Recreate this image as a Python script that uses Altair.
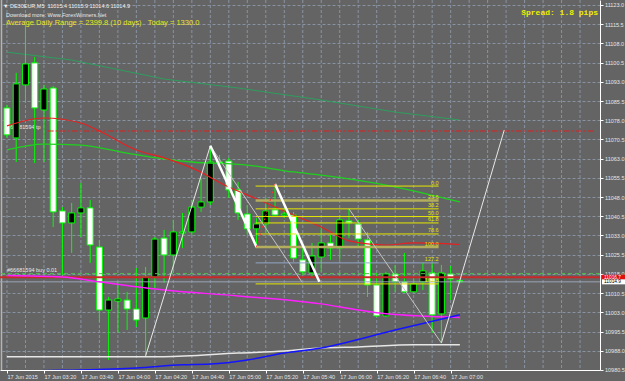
import altair as alt
import pandas as pd

# ---------------- candles (DE30EUR M5, bar 0 = 03:00) ----------------
bar_index = list(range(50))
opens = [11082.8, 11071.1, 11091.8, 11100.4, 11082.0, 11090.6, 11042.6, 11037.9, 11041.8, 11043.8,
         11028.5, 11003.9, 11007.4, 11007.8, 11004.3, 11000.8, 11016.8, 11032.0, 11025.4, 11034.0,
         11034.4, 11044.1, 11046.1, 11061.7, 11062.1, 11050.8, 11041.4, 11035.6, 11037.5, 11043.0,
         11041.0, 11041.0, 11023.5, 11018.4, 11024.6, 11030.1, 11028.1, 11038.7, 11037.5, 11031.3,
         11013.7, 11001.6, 11018.0, 11014.9, 11011.0, 11014.9, 11018.4, 11002.4, 11018.0, 11015.4]
highs = [11084.0, 11096.5, 11115.2, 11102.7, 11091.8, 11091.4, 11044.1, 11045.7, 11053.5, 11046.9,
         11031.3, 11009.0, 11014.9, 11011.0, 11020.3, 11020.7, 11032.4, 11035.2, 11039.1, 11041.8,
         11046.9, 11055.5, 11068.0, 11064.4, 11063.3, 11053.9, 11044.9, 11039.8, 11047.7, 11053.1,
         11043.4, 11042.2, 11030.1, 11030.1, 11036.3, 11033.2, 11041.0, 11043.4, 11039.1, 11034.4,
         11018.4, 11018.8, 11021.5, 11026.2, 11016.4, 11022.3, 11022.3, 11021.5, 11021.1, 11015.9]
lows = [11071.1, 11061.7, 11084.7, 11061.3, 11061.7, 11036.3, 11017.6, 11026.2, 11032.4, 11022.3,
        10999.2, 10984.4, 10995.0, 10996.1, 10997.3, 10986.0, 11012.5, 11014.5, 11018.4, 11028.1,
        11033.2, 11042.2, 11044.9, 11059.4, 11047.7, 11039.1, 11033.2, 11028.5, 11034.0, 11040.2,
        11039.8, 11022.7, 11017.6, 11016.4, 11018.8, 11023.5, 11023.5, 11032.0, 11028.1, 11009.0,
        11001.2, 11001.2, 11011.0, 11010.6, 11010.6, 11011.7, 10995.0, 10991.0, 11007.8, 11014.6]
closes = [11072.3, 11092.2, 11100.0, 11082.8, 11090.2, 11042.2, 11037.9, 11041.8, 11043.8, 11029.3,
          11003.9, 11007.8, 11008.2, 11004.3, 11000.0, 11016.8, 11031.6, 11025.4, 11034.4, 11034.4,
          11044.1, 11046.1, 11061.7, 11061.3, 11050.8, 11041.8, 11035.6, 11037.5, 11042.6, 11041.0,
          11041.4, 11024.2, 11018.8, 11025.0, 11030.1, 11028.1, 11039.1, 11037.9, 11031.6, 11013.7,
          11001.6, 11018.0, 11014.9, 11011.0, 11014.1, 11019.2, 11002.0, 11018.4, 11016.0, 11014.9]

# ---------------- axes ----------------
x_tick_bars = [0, 4, 8, 12, 16, 20, 24, 28, 32, 36, 40, 44, 48]
x_tick_labels = ["17 Jun 2015", "17 Jun 03:20", "17 Jun 03:40", "17 Jun 04:00", "17 Jun 04:20",
                 "17 Jun 04:40", "17 Jun 05:00", "17 Jun 05:20", "17 Jun 05:40", "17 Jun 06:00",
                 "17 Jun 06:20", "17 Jun 06:40", "17 Jun 07:00"]
y_tick_values = [10980.5, 10988.0, 10995.5, 11003.0, 11010.5, 11018.0, 11025.5, 11033.0, 11040.5,
                 11048.0, 11055.5, 11063.0, 11070.5, 11078.0, 11085.5, 11093.0, 11100.5, 11108.0,
                 11115.5, 11123.0]

# ---------------- indicators ----------------
trend_bars = [0, 7, 17, 25, 34, 42, 49]
trend_vals = [11104.6, 11101.5, 11094.1, 11090.6, 11085.9, 11081.2, 11078.1]
green_ma_bars = [0, 4, 8, 13, 17, 20, 26, 31, 34, 41, 49]
green_ma_vals = [11066.4, 11068.7, 11068.3, 11065.2, 11062.9, 11061.7, 11060.5, 11057.8, 11056.6, 11052.7, 11046.1]
red_ma_bars = [0, 4, 8, 10, 14, 17, 20, 24, 27, 30, 34, 37, 41, 44, 49]
red_ma_vals = [11075.8, 11078.9, 11076.9, 11073.8, 11066.4, 11063.3, 11059.4, 11051.9, 11047.3, 11042.6,
               11036.3, 11030.9, 11029.3, 11030.1, 11029.5]
magenta_bars = [0, 6, 10, 17, 25, 34, 38, 41, 49]
magenta_vals = [11017.4, 11016.8, 11014.9, 11011.7, 11009.4, 11006.3, 11003.9, 11002.4, 11001.0]
blue_bars = [0, 3, 8, 14, 19, 22, 26, 30, 34, 42, 49]
blue_vals = [10979.2, 10980.1, 10980.5, 10981.3, 10982.5, 10982.8, 10984.4, 10987.1, 10989.1, 10996.1, 11002.0]
white_bars = [0, 17, 25, 30, 34, 38, 44, 49]
white_vals = [10985.7, 10985.7, 10987.1, 10987.9, 10989.1, 10989.5, 10990.3, 10990.3]

# zigzag / trend segments: start bar, start price, end bar, end price
thin_white_k0 = [15, 47]
thin_white_p0 = [10986.0, 10991.0]
thin_white_k1 = [22, 53.8]
thin_white_p1 = [11068.0, 11074.2]
thin_gray_k0 = [22, 37]
thin_gray_p0 = [11068.0, 11043.4]
thin_gray_k1 = [31.9, 47]
thin_gray_p1 = [11014.9, 10991.0]
thick_k0 = [22, 29]
thick_p0 = [11068.0, 11053.1]
thick_k1 = [27, 33.8]
thick_p1 = [11028.5, 11014.9]
dotted_k0 = [27]
dotted_p0 = [11028.5]
dotted_k1 = [29]
dotted_p1 = [11053.1]

# Fibonacci retracement
fib_labels = ["0.0", "23.6", "38.2", "50.0", "61.8", "78.6", "100.0", "127.2", "161.8"]
fib_prices = [11052.3, 11046.7, 11043.4, 11040.4, 11037.9, 11033.6, 11028.5, 11022.3, 11014.1]
fib_start_bar = 26.9
fib_end_bar = 46.7

# order / price lines
tp_price = 11073.8
buy_price = 11018.1
ask_price = 11016.7
bid_price = 11014.9

# ---------------- styling ----------------
BG = "#646464"
GRID = "#8893a2"
CGREEN = "#00ff00"
FONT = "Liberation Sans"
X_DOMAIN = [-0.2128, 63.617]
Y_DOMAIN = [10980.48, 11124.95]

xs = alt.Scale(domain=X_DOMAIN, nice=False, zero=False)
ys = alt.Scale(domain=Y_DOMAIN, nice=False, zero=False)

label_expr = "[" + ",".join(f"'{t}'" for t in x_tick_labels) + "][round(datum.value / 4)]"

axis_x = alt.Axis(values=x_tick_bars, labelExpr=label_expr, labelAlign="left", labelFlush=False,
                  labelOverlap=False, labelFontSize=5.5, labelFont=FONT, labelColor="#e6e6e6",
                  labelPadding=1, labelBaseline="top", tickSize=3, tickColor="#ffffff",
                  domainColor="#ffffff", grid=False, title=None)
axis_y = alt.Axis(orient="right", values=y_tick_values, format=".1f", labelFontSize=5.5, labelFont=FONT,
                  labelColor="#e6e6e6", labelPadding=1.5, labelFlush=False, labelOverlap=False,
                  tickSize=3, tickColor="#ffffff", domainColor="#ffffff", grid=True, gridColor=GRID,
                  gridDash=[3, 2], gridWidth=1, title=None)


def X(f="k"):
    return alt.X(f"{f}:Q", scale=xs, axis=axis_x)


def Y(f="price"):
    return alt.Y(f"{f}:Q", scale=ys, axis=axis_y)


def line(bars, vals, color, width=1.0, interp="monotone", clip=False, dash=None):
    d = pd.DataFrame({"k": bars, "price": vals})
    kw = dict(color=color, strokeWidth=width, interpolate=interp, clip=clip)
    if dash:
        kw["strokeDash"] = dash
    return alt.Chart(d).mark_line(**kw).encode(x=X(), y=Y())


def segs(k0, p0, k1, p1, color, width=1.0, dash=None):
    d = pd.DataFrame({"k0": k0, "p0": p0, "k1": k1, "p1": p1})
    kw = dict(color=color, strokeWidth=width)
    if dash:
        kw["strokeDash"] = dash
    return alt.Chart(d).mark_rule(**kw).encode(x=X("k0"), y=Y("p0"), x2="k1:Q", y2="p1:Q")


candles = pd.DataFrame({"k": bar_index, "open": opens, "high": highs, "low": lows, "close": closes})
candles["body_fill"] = ["#000000" if c > o else "#ffffff" for o, c in zip(opens, closes)]

# vertical grid every 10 minutes (2 bars)
vgrid = alt.Chart(pd.DataFrame({"k": list(range(0, 64, 2))})).mark_rule(
    color=GRID, strokeDash=[3, 2], strokeWidth=1).encode(x=X())

left_edge = alt.Chart(pd.DataFrame({"a": [0]})).mark_rule(color="#b4b4b4", strokeWidth=1.5).encode(
    x=alt.value(1.5), y=alt.value(0), y2=alt.value(370))

wicks = alt.Chart(candles).mark_rule(color=CGREEN, strokeWidth=1).encode(
    x=X(), y=Y("low"), y2="high:Q")
bodies = alt.Chart(candles).mark_bar(size=6, stroke=CGREEN, strokeWidth=1).encode(
    x=X(), y=Y("open"), y2="close:Q", fill=alt.Fill("body_fill:N", scale=None))

# order labels (drawn under candles)
order_text = alt.Chart(pd.DataFrame({"price": [tp_price, buy_price],
                                     "t": ["#66681594 tp", "#66681594 buy 0.01"]})).mark_text(
    align="left", baseline="bottom", dy=-0.5, fontSize=5.5, font=FONT, color="#e8e8e8").encode(
    x=alt.value(7), y=Y(), text="t:N")

tp_line = alt.Chart(pd.DataFrame({"ks": [4.4], "ke": [X_DOMAIN[1]], "price": [tp_price]})).mark_rule(
    color="#e02020", strokeWidth=1, strokeDash=[6, 2, 2, 2]).encode(x=X("ks"), x2="ke:Q", y=Y())
buy_line = alt.Chart(pd.DataFrame({"price": [buy_price]})).mark_rule(
    color="#4cc24c", strokeWidth=1, strokeDash=[4, 3]).encode(y=Y())
ask_line = alt.Chart(pd.DataFrame({"price": [ask_price]})).mark_rule(
    color="#c82828", strokeWidth=2).encode(y=Y())
bid_line = alt.Chart(pd.DataFrame({"price": [bid_price]})).mark_rule(
    color="#9aa6b8", strokeWidth=1).encode(y=Y())

fib_df = pd.DataFrame({"label": fib_labels, "price": fib_prices,
                       "ks": [fib_start_bar] * len(fib_labels), "ke": [fib_end_bar] * len(fib_labels)})
fib_df["col"] = ["#b3ad5c" if l in ("23.6", "100.0") else ("#93a6c8" if l == "127.2" else "#e6e600")
                 for l in fib_labels]
fib_df["w"] = [2.5 if l in ("23.6", "100.0") else 1 for l in fib_labels]
fib_lines = alt.Chart(fib_df).mark_rule().encode(
    x=X("ks"), x2="ke:Q", y=Y(), color=alt.Color("col:N", scale=None),
    strokeWidth=alt.StrokeWidth("w:Q", scale=None))
fib_text = alt.Chart(fib_df).mark_text(align="right", baseline="bottom", dy=-0.5, fontSize=5.5,
                                       font=FONT, color="#e6e600").encode(
    x=X("ke"), y=Y(), text="label:N")

# price tags on the right axis (ask in red, bid in white)
ask_box = alt.Chart(pd.DataFrame({"price": [ask_price]})).mark_tick(
    orient="horizontal", size=23, thickness=5, opacity=1, color="#e01010").encode(
    x=alt.value(613.5), y=Y())
ask_txt = alt.Chart(pd.DataFrame({"price": [ask_price], "t": ["11016.7"]})).mark_text(
    align="left", baseline="middle", fontSize=4.8, font=FONT, color="#ffffff", dy=0.9).encode(
    x=alt.value(604), y=Y(), text="t:N")
bid_box = alt.Chart(pd.DataFrame({"price": [bid_price]})).mark_tick(
    orient="horizontal", size=23, thickness=5, opacity=1, color="#ffffff").encode(
    x=alt.value(613.5), y=Y())
bid_txt = alt.Chart(pd.DataFrame({"price": [bid_price], "t": ["11014.9"]})).mark_text(
    align="left", baseline="middle", fontSize=4.8, font=FONT, color="#000000", dy=0.6).encode(
    x=alt.value(604), y=Y(), text="t:N")


def txt(s, x, y, size, color, align="left", font=FONT, weight="normal"):
    return alt.Chart(pd.DataFrame({"t": [s]})).mark_text(
        align=align, baseline="middle", fontSize=size, font=font, color=color, fontWeight=weight).encode(
        x=alt.value(x), y=alt.value(y), text="t:N")


NB = "\u00a0"
header = txt("\u25bc DE30EUR,M5" + NB * 2 + "11015.4 11015.9 11014.6 11014.9", 3, 6, 5.5, "#f0f0f0")
download = txt("Download more: Www.ForexWinners.Net", 6, 14.5, 5.5, "#e8e8e8")
adr = txt("Average Daily Range = 2399.8 (10 days)" + NB * 3 + "Today = 1330.0", 6, 22.5, 7.5, "#e8e81a")
spread = txt("Spread: 1.8 pips", 598, 13, 8, "#f0f000", align="right", font="Liberation Mono", weight="bold")

chart = alt.layer(
    vgrid, left_edge,
    line(trend_bars, trend_vals, "#2e9e5e", 1, interp="linear"),
    order_text,
    wicks, bodies,
    tp_line, buy_line, ask_line, bid_line,
    line(green_ma_bars, green_ma_vals, "#1fd01f", 1.3),
    line(red_ma_bars, red_ma_vals, "#e82020", 1.1),
    line(magenta_bars, magenta_vals, "#ff20ff", 1.5),
    line(white_bars, white_vals, "#e6e6e6", 1.5),
    line(blue_bars, blue_vals, "#1414ff", 1.5, clip=True),
    fib_lines, fib_text,
    segs(thin_white_k0, thin_white_p0, thin_white_k1, thin_white_p1, "#e8e8e8", 1),
    segs(thin_gray_k0, thin_gray_p0, thin_gray_k1, thin_gray_p1, "#c4c4c4", 1),
    segs(thick_k0, thick_p0, thick_k1, thick_p1, "#ffffff", 2.5),
    segs(dotted_k0, dotted_p0, dotted_k1, dotted_p1, "#ff3030", 1, dash=[2, 2]),
    ask_box, ask_txt, bid_box, bid_txt,
    header, download, adr, spread,
).properties(
    width=600, height=370, autosize="none",
    padding={"left": 0, "top": 0, "right": 25, "bottom": 11},
    background=BG,
).configure_view(fill=BG, stroke=None)

chart.save("out.html", embed_options={"renderer": "svg", "actions": False})
